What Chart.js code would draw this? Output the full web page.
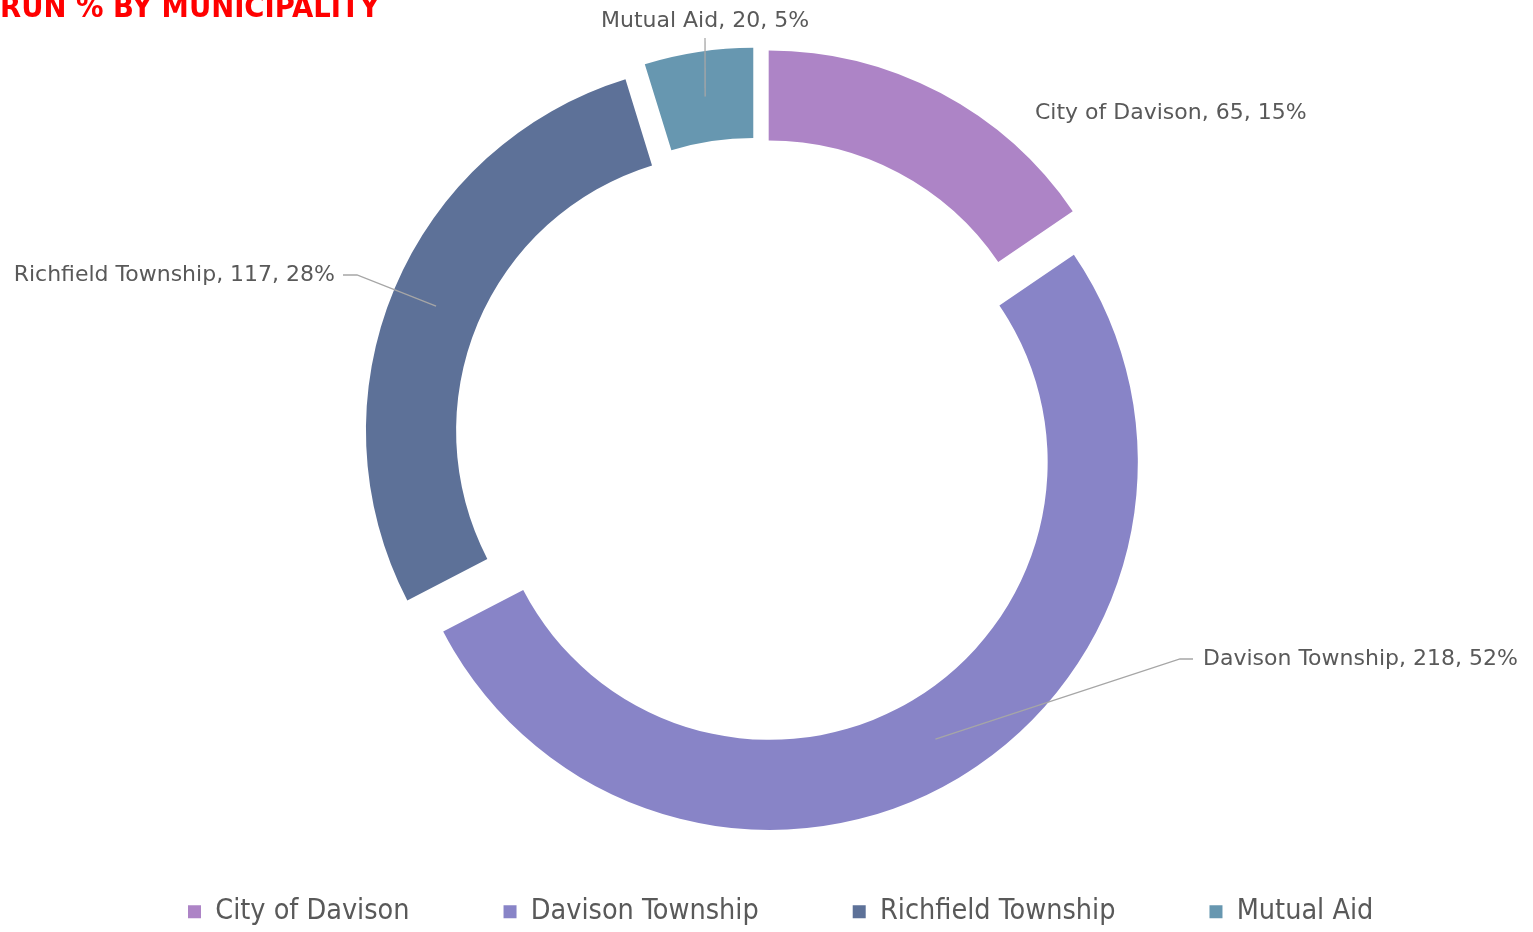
<!DOCTYPE html>
<html>
<head>
<meta charset="utf-8">
<title>Run % by Municipality</title>
<script src="https://cdn.jsdelivr.net/npm/chart.js@4.4.0/dist/chart.umd.min.js"></script>
<style>
    html, body { margin: 0; padding: 0; background: #ffffff; }
    #wrap { position: relative; width: 1533px; height: 932px; overflow: hidden; }
</style>
</head>
<body>
<div id="wrap"><canvas id="runChart"></canvas></div>
<script>
// --- Data ---
const municipalities = ['City of Davison', 'Davison Township', 'Richfield Township', 'Mutual Aid'];
const runCounts = [65, 218, 117, 20];
const sliceColors = ['#AD84C6', '#8884C7', '#5D7198', '#6797B0'];
const chartTitle = 'RUN % BY MUNICIPALITY';

// --- Layout (pixels) ---
const EXPLODE = 25;          // how far each slice is pulled out
const OUTER_RADIUS = 368;
const LEGEND_SHIFT_X = 94;   // legend row starts further right than the plot centre allows
const LEGEND_SHIFT_Y = 4;
const LABEL_FONT = '22px "DejaVu Sans", sans-serif';
const LABEL_COLOR = '#595959';
const LEADER_COLOR = '#A6A6A6';

// label text anchor + elbow points of the leader line (line ends at the slice centre)
const labelLayout = [
    { x: 1035, y: 113, align: 'left', elbow: null },
    { x: 1203, y: 659, align: 'left', elbow: [[1193, 659], [1180, 659]] },
    { x: 335, y: 275, align: 'right', elbow: [[343, 275], [357, 275]] },
    { x: 705, y: 21, align: 'center', elbow: [[705, 38]] }
];

const totalRuns = runCounts.reduce((sum, v) => sum + v, 0);

// pull every arc outward along its middle angle (Excel "point explosion")
const explodePlugin = {
    id: 'explode',
    afterDatasetsUpdate(chart) {
        chart.getDatasetMeta(0).data.forEach(arc => {
            const mid = (arc.startAngle + arc.endAngle) / 2;
            arc.x += Math.cos(mid) * EXPLODE;
            arc.y += Math.sin(mid) * EXPLODE;
        });
    }
};

// move legend row to where the reference has it
const legendNudgePlugin = {
    id: 'legendNudge',
    afterLayout(chart) {
        const lg = chart.legend;
        if (!lg) return;
        lg.left += LEGEND_SHIFT_X;
        lg.right += LEGEND_SHIFT_X;
        lg.top += LEGEND_SHIFT_Y;
        lg.bottom += LEGEND_SHIFT_Y;
    }
};

// data labels "Name, value, pct%" with grey leader lines
const sliceLabelPlugin = {
    id: 'sliceLabels',
    afterDatasetsDraw(chart) {
        const ctx = chart.ctx;
        const arcs = chart.getDatasetMeta(0).data;
        ctx.save();
        ctx.font = LABEL_FONT;
        ctx.fillStyle = LABEL_COLOR;
        ctx.textBaseline = 'middle';
        arcs.forEach((arc, i) => {
            const lay = labelLayout[i];
            const centre = arc.tooltipPosition();
            if (lay.elbow) {
                ctx.beginPath();
                ctx.strokeStyle = LEADER_COLOR;
                ctx.lineWidth = 1.3;
                ctx.moveTo(lay.elbow[0][0], lay.elbow[0][1]);
                for (let k = 1; k < lay.elbow.length; k++) ctx.lineTo(lay.elbow[k][0], lay.elbow[k][1]);
                ctx.lineTo(centre.x, centre.y);
                ctx.stroke();
            }
            const pct = Math.round(runCounts[i] / totalRuns * 100);
            ctx.textAlign = lay.align;
            ctx.fillText(`${municipalities[i]}, ${runCounts[i]}, ${pct}%`, lay.x, lay.y);
        });
        ctx.restore();
    }
};

const ctx = document.getElementById('runChart').getContext('2d');
new Chart(ctx, {
    type: 'doughnut',
    data: {
        labels: municipalities,
        datasets: [{
            data: runCounts,
            backgroundColor: sliceColors,
            borderWidth: 0,
            clip: false
        }]
    },
    options: {
        responsive: true,
        maintainAspectRatio: false,
        animation: false,
        events: [],
        radius: OUTER_RADIUS,
        cutout: '75.5%',
        layout: { padding: { left: 0, right: 19, top: 0, bottom: 0 } },
        plugins: {
            title: {
                display: true,
                text: chartTitle,
                align: 'start',
                color: '#FF0000',
                font: { family: '"DejaVu Sans Condensed", "DejaVu Sans", sans-serif', size: 30.5, weight: 'bold', lineHeight: 1.2 },
                padding: { top: -9, bottom: 54 }
            },
            legend: {
                position: 'bottom',
                align: 'start',
                labels: {
                    color: '#595959',
                    boxWidth: 13,
                    boxHeight: 13,
                    padding: 94,
                    font: { family: '"DejaVu Sans Condensed", "DejaVu Sans", sans-serif', size: 28.5 }
                }
            },
            tooltip: { enabled: false }
        }
    },
    plugins: [explodePlugin, legendNudgePlugin, sliceLabelPlugin]
});
</script>
</body>
</html>
